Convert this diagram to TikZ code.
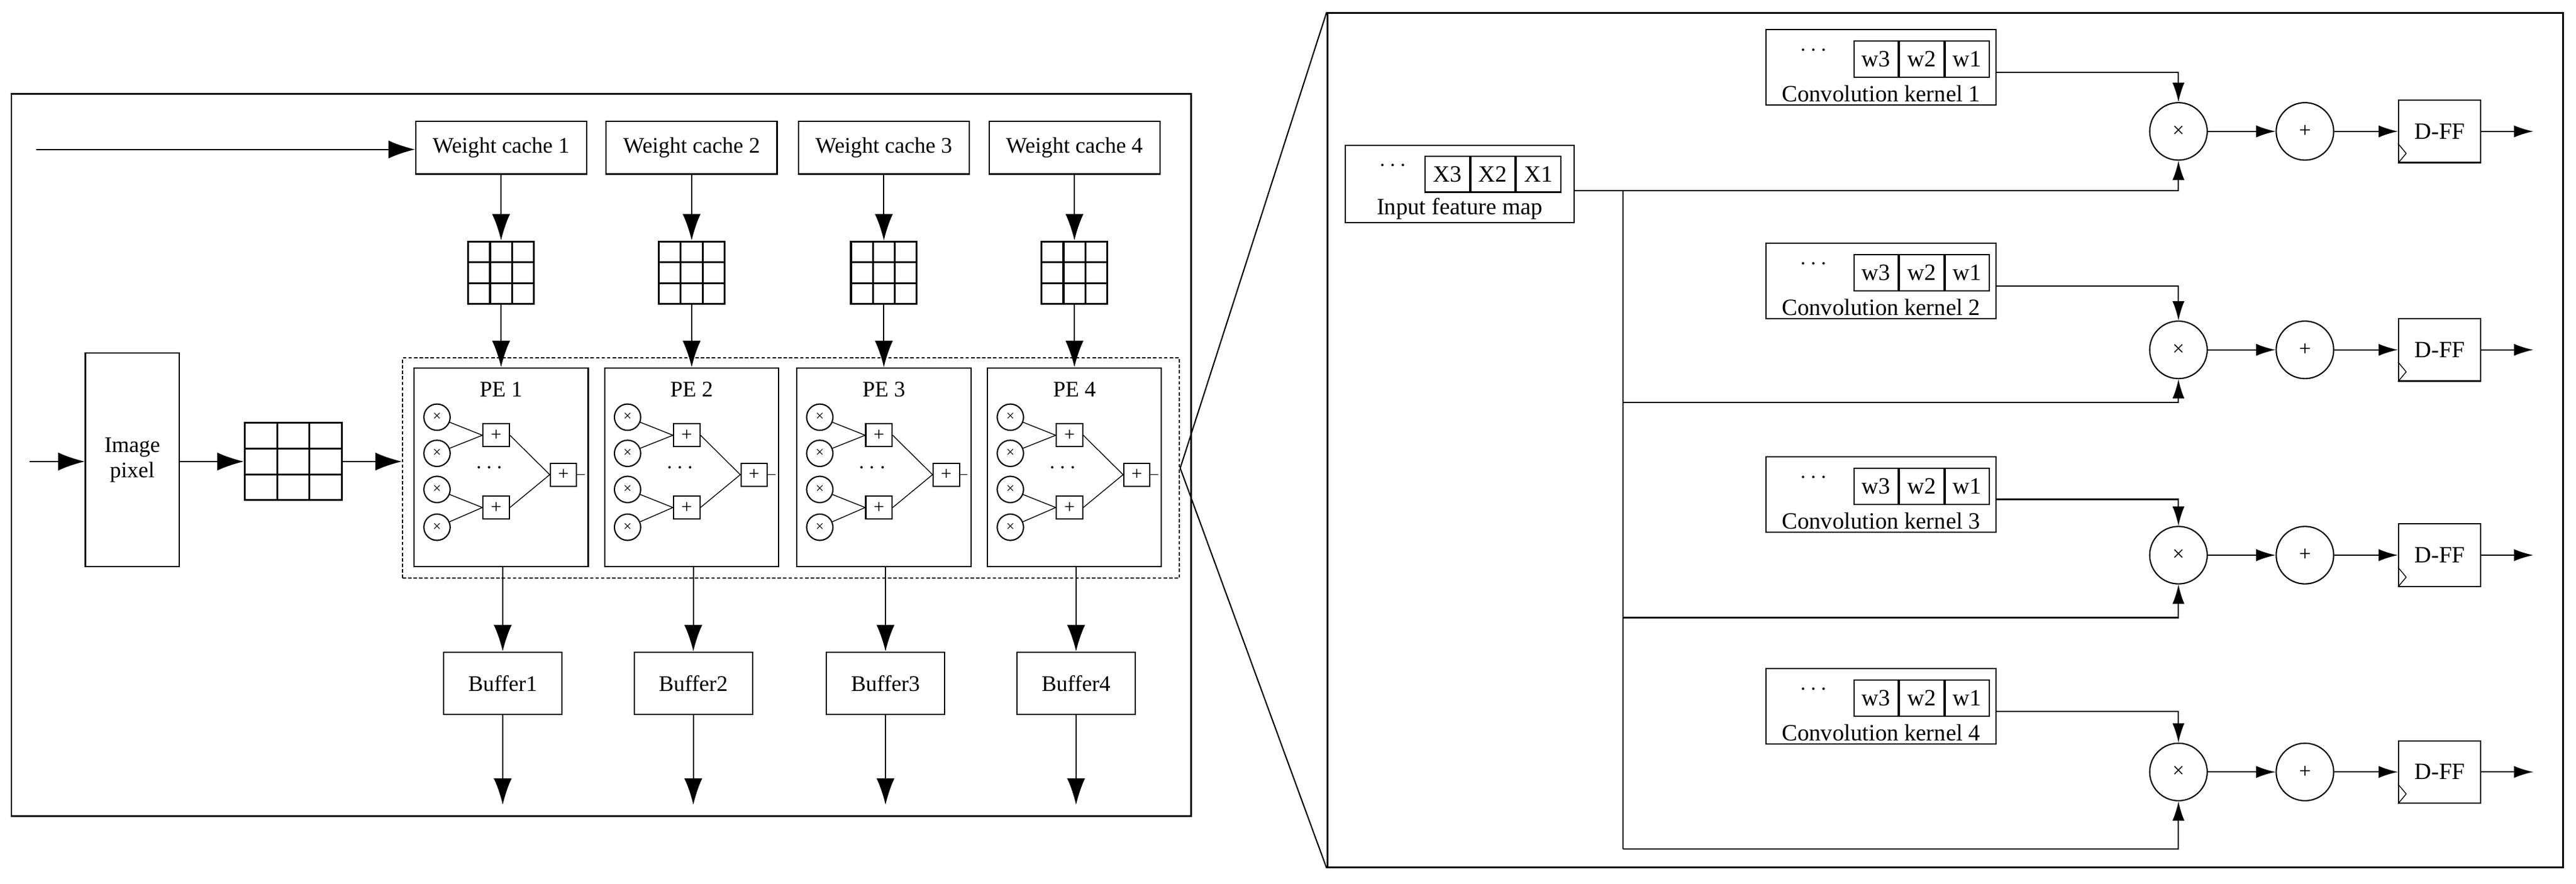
\documentclass[tikz,border=0pt]{standalone}
\usepackage{fontspec}
\setmainfont{Liberation Serif}
\usetikzlibrary{arrows.meta,positioning,calc}
\newdimen\pu \pu=0.2722mm

\begin{document}
\begin{tikzpicture}[
  x=\pu, y=-0.2722mm,
  line width=0.6pt,
  every node/.style={font=\fontsize{10.5}{12}\selectfont, align=center, inner sep=0pt},
  box/.style={draw, minimum width=#1},
  box/.default={104\pu},
  cell/.style={draw, minimum width=27\pu, minimum height=22\pu, font=\fontsize{11}{12}\selectfont},
  mulc/.style={draw, circle, minimum size=16\pu, font=\fontsize{7}{8}\selectfont},
  addb/.style={draw, minimum width=16\pu, minimum height=14\pu, font=\fontsize{9}{9}\selectfont},
  opc/.style={draw, circle, minimum size=35\pu, font=\fontsize{10}{10}\selectfont},
  arr/.style={-{Latex[length=4.4mm,width=3mm]}},
  arrs/.style={-{Latex[length=3.2mm,width=2mm]}},
  grid3/.style 2 args={draw, line width=0.9pt, minimum width=#1, minimum height=#2,
    path picture={
      \def\pb{path picture bounding box}
      \foreach \t in {1,2}{
        \draw[line width=0.9pt] ($(\pb.south west)!\t/3!(\pb.south east)$) -- ($(\pb.north west)!\t/3!(\pb.north east)$);
        \draw[line width=0.9pt] ($(\pb.south west)!\t/3!(\pb.north west)$) -- ($(\pb.south east)!\t/3!(\pb.north east)$);
      }}}
]
\useasboundingbox (0,0) rectangle (1568,538);

% left part
\node[draw, line width=0.8pt, minimum width=718\pu, minimum height=440\pu] (lft) at (366,277) {};
\node[draw, dash pattern=on 1.6pt off 1pt, minimum width=473\pu, minimum height=134\pu] (pes) at (481.5,285) {};

\node[box=57\pu, minimum height=130\pu] (img) at (80.5,280) {Image\\pixel};
\node[grid3={59\pu}{47\pu}] (lg) at (178.5,281) {};
\coordinate (pin) at (18,281);
\coordinate (win) at (22,91);
\draw[arr] (pin) -- (img.west |- pin);
\draw[arr] (img.east |- lg) -- (lg.west);
\draw[arr] (lg.east) -- (lg.east -| pes.west);

\foreach \i/\x in {1/305,2/421,3/538,4/654}{
  \node[box, minimum height=32\pu] (wc\i) at (\x,90) {Weight cache \i};
  \node[grid3={40\pu}{38\pu}] (g\i) at (\x,166) {};
  \node[draw, minimum width=106\pu, minimum height=121\pu] (pe\i) at (\x,284.5) {};
  \node (pel\i) at (\x,237) {PE \i};
  \node[box=72\pu, minimum height=38\pu] (buf\i) at (\x+1,416) {Buffer\i};
  \coordinate (out\i) at (\x+1,490);
  \draw[arr] (wc\i) -- (g\i);
  \draw[arr] (g\i) -- (pe\i);
  \draw[arr] (pe\i.south -| buf\i) -- (buf\i);
  \draw[arr] (buf\i) -- (out\i);
  % adder tree
  \foreach \j/\yy in {a/254,b/276,c/298,d/321}
    \node[mulc] (pe\i\j) at (\x-39,\yy) {×};
  \node[addb] (pe\i u) at (\x-3,265) {+};
  \node[addb] (pe\i l) at (\x-3,309) {+};
  \node[addb] (pe\i s) at (\x+38,289) {+};
  \node (pe\i dots) at (\x-7,285) {$\cdots$};
  \coordinate (pe\i o) at (\x+51,289);
  \draw[line width=0.4pt] (pe\i a) -- (pe\i u.west) -- (pe\i b);
  \draw[line width=0.4pt] (pe\i c) -- (pe\i l.west) -- (pe\i d);
  \draw[line width=0.4pt] (pe\i u.east) -- (pe\i s.west) -- (pe\i l.east);
  \draw[line width=0.4pt] (pe\i s) -- (pe\i o);
}
\draw[arr] (win) -- (wc1.west |- win);

% right part
\node[draw, line width=0.8pt, minimum width=752\pu, minimum height=520\pu] (rgt) at (1184,268) {};
\draw (pes.east) -- (rgt.north west);
\draw (pes.east) -- (rgt.south west);

\node[draw, minimum width=139\pu, minimum height=47\pu] (ifm) at (888.5,112) {};
\node[cell] (x1) at (936.5,106) {X1};
\node[cell, left=0pt of x1] (x2) {X2};
\node[cell, left=0pt of x2] (x3) {X3};
\node (ifmdots) at (848,101) {$\cdots$};
\node[font=\fontsize{11}{12}\selectfont] (ifml) at (888.5,127) {Input feature map};

\coordinate (b1) at (988,116);
\coordinate (b2) at (988,245);
\coordinate (b3) at (988,376);
\coordinate (b4) at (988,517);
\draw (ifm.east |- b1) -- (b1) -- (b4);

\foreach \k/\y/\ym in {1/41/80,2/171/213,3/301/338,4/430/470}{
  \node[draw, minimum width=140\pu, minimum height=46\pu] (k\k) at (1145,\y) {};
  \node[cell] (k\k w1) at (1197.5,\y-5) {w1};
  \node[cell, left=0pt of k\k w1] (k\k w2) {w2};
  \node[cell, left=0pt of k\k w2] (k\k w3) {w3};
  \node (k\k dots) at (1104,\y-10) {$\cdots$};
  \node[font=\fontsize{11}{12}\selectfont] (k\k l) at (1145,\y+16) {Convolution kernel \k};
  \node[opc] (m\k) at (1326,\ym) {×};
  \node[opc] (a\k) at (1403,\ym) {+};
  \node[draw, minimum width=50\pu, minimum height=38\pu, font=\fontsize{11}{12}\selectfont] (d\k) at (1485,\ym) {D-FF};
  \coordinate (o\k) at (1542,\ym);
  \draw[arrs] ($(k\k.east)+(0,3)$) -| (m\k.north);
  \draw[arrs] (b\k) -| (m\k.south);
  \draw[arrs] (m\k) -- (a\k);
  \draw[arrs] (a\k) -- (d\k);
  \draw[arrs] (d\k) -- (o\k);
  \draw[line width=0.4pt] ($(d\k.south west)+(0,-12)$) -- ++(5,6) -- ++(-5,6);
}
\end{tikzpicture}
\end{document}
